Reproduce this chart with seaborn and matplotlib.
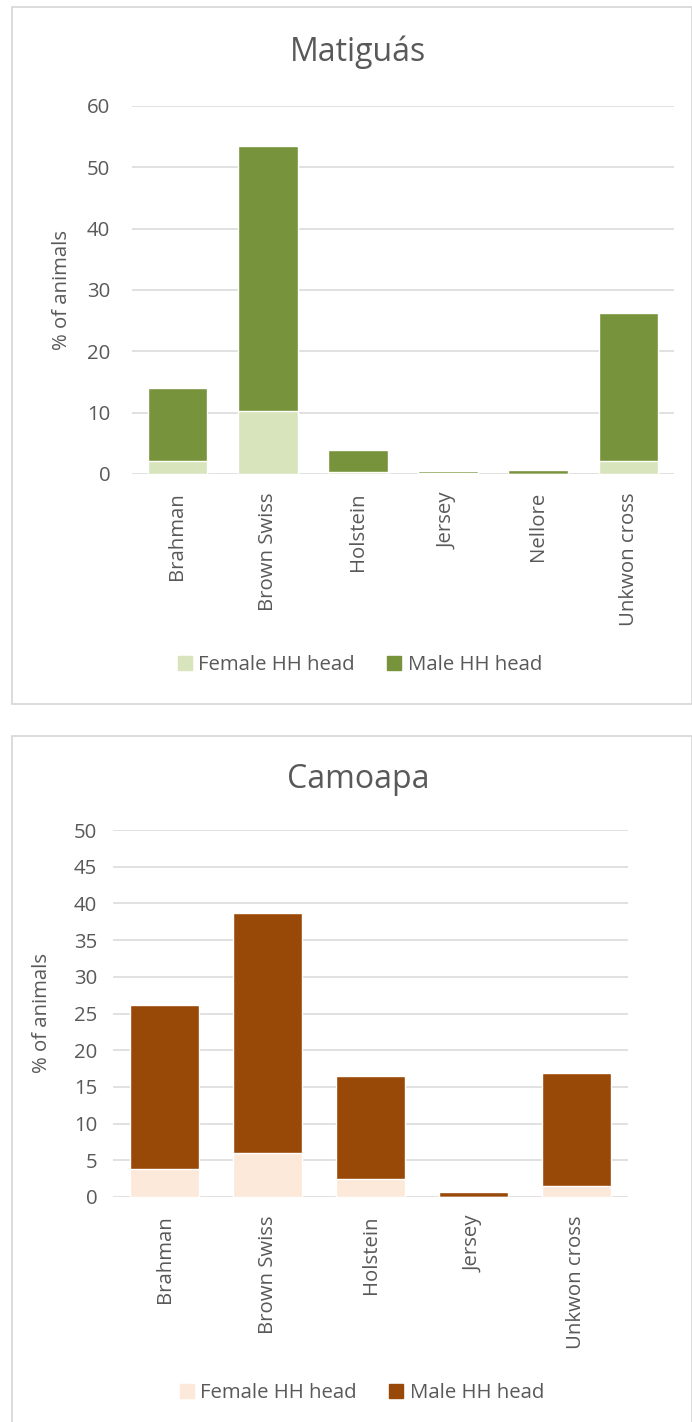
import numpy as np
import pandas as pd
import matplotlib
matplotlib.use('Agg')
import matplotlib.pyplot as plt
import seaborn as sns
from matplotlib.patches import Patch, Rectangle

# Matiguás
breeds_mat = ['Brahman', 'Brown Swiss', 'Holstein', 'Jersey', 'Nellore', 'Unkwon cross']
female_mat = [2.2, 10.2, 0.25, 0.1, 0.0, 2.2]
male_mat = [11.85, 43.3, 3.67, 0.4, 0.7, 24.0]

# Camoapa
breeds_cam = ['Brahman', 'Brown Swiss', 'Holstein', 'Jersey', 'Unkwon cross']
female_cam = [3.8, 6.05, 2.5, 0.0, 1.5]
male_cam = [22.3, 32.65, 14.0, 0.7, 15.45]

sns.set_style('white')
plt.rcParams['font.family'] = ['Open Sans', 'DejaVu Sans']

W, H = 692, 1422
GREY = '#595959'
FS = 14.7

fig = plt.figure(figsize=(W / 100, H / 100), dpi=100)


def px_axes(left, top, right, bottom):
    return fig.add_axes([left / W, 1 - bottom / H, (right - left) / W, (bottom - top) / H])


def stacked(ax, cats, female, male, c_f, c_m, ymax, step, ypad):
    df = pd.DataFrame({'breed': cats, 'female': female, 'male': male})
    df['total'] = df.female + df.male
    sns.barplot(data=df, x='breed', y='total', color=c_m, saturation=1,
                width=0.665, errorbar=None, ax=ax)
    sns.barplot(data=df, x='breed', y='female', color=c_f, saturation=1,
                width=0.665, errorbar=None, ax=ax)
    ax.set_xlim(-0.5, len(cats) - 0.5)
    ax.set_ylim(0, ymax)
    ax.set_yticks(np.arange(0, ymax + 0.1, step))
    ax.set_xlabel('')
    ax.set_ylabel('')
    for s in ax.spines.values():
        s.set_visible(False)
    ax.yaxis.grid(True, color='#d9d9d9', lw=1.1)
    ax.set_axisbelow(True)
    ax.tick_params(axis='y', length=0, pad=ypad, labelsize=FS, labelcolor=GREY)
    ax.tick_params(axis='x', length=0, pad=13, labelsize=FS, labelcolor=GREY,
                   labelrotation=90)


def border(top, bottom):
    fig.add_artist(Rectangle((12 / W, 1 - bottom / H), 679.5 / W, (bottom - top) / H,
                             transform=fig.transFigure, fill=False,
                             edgecolor='#d9d9d9', lw=1.3))


def legend(c_f, c_m, xc, yc):
    handles = [Patch(color=c_f, label='Female HH head'),
               Patch(color=c_m, label='Male HH head')]
    fig.legend(handles=handles, loc='center', bbox_to_anchor=(xc / W, 1 - yc / H),
               ncol=2, frameon=False, fontsize=FS, labelcolor=GREY,
               handlelength=0.7, handleheight=0.7, handletextpad=0.3,
               columnspacing=1.57)


# top chart
border(7, 704)
ax1 = px_axes(132.4, 106, 673.6, 474)
stacked(ax1, breeds_mat, female_mat, male_mat, '#D8E4BC', '#77933C', 60, 10, 16)
fig.text(358 / W, 1 - 52 / H, 'Matiguás', ha='center', va='center', fontsize=23, color=GREY)
fig.text(62 / W, 1 - 290 / H, '% of animals', ha='center', va='center', rotation=90,
         fontsize=FS, color=GREY)
legend('#D8E4BC', '#77933C', 360, 665)

# bottom chart
border(736, 1428)
ax2 = px_axes(113.2, 830, 627.9, 1197)
stacked(ax2, breeds_cam, female_cam, male_cam, '#FDE9D9', '#984807', 50, 5, 11.5)
fig.text(358 / W, 1 - 780 / H, 'Camoapa', ha='center', va='center', fontsize=23, color=GREY)
fig.text(42 / W, 1 - 1013 / H, '% of animals', ha='center', va='center', rotation=90,
         fontsize=FS, color=GREY)
legend('#FDE9D9', '#984807', 362, 1393)

fig.savefig('out.png', dpi=100)
